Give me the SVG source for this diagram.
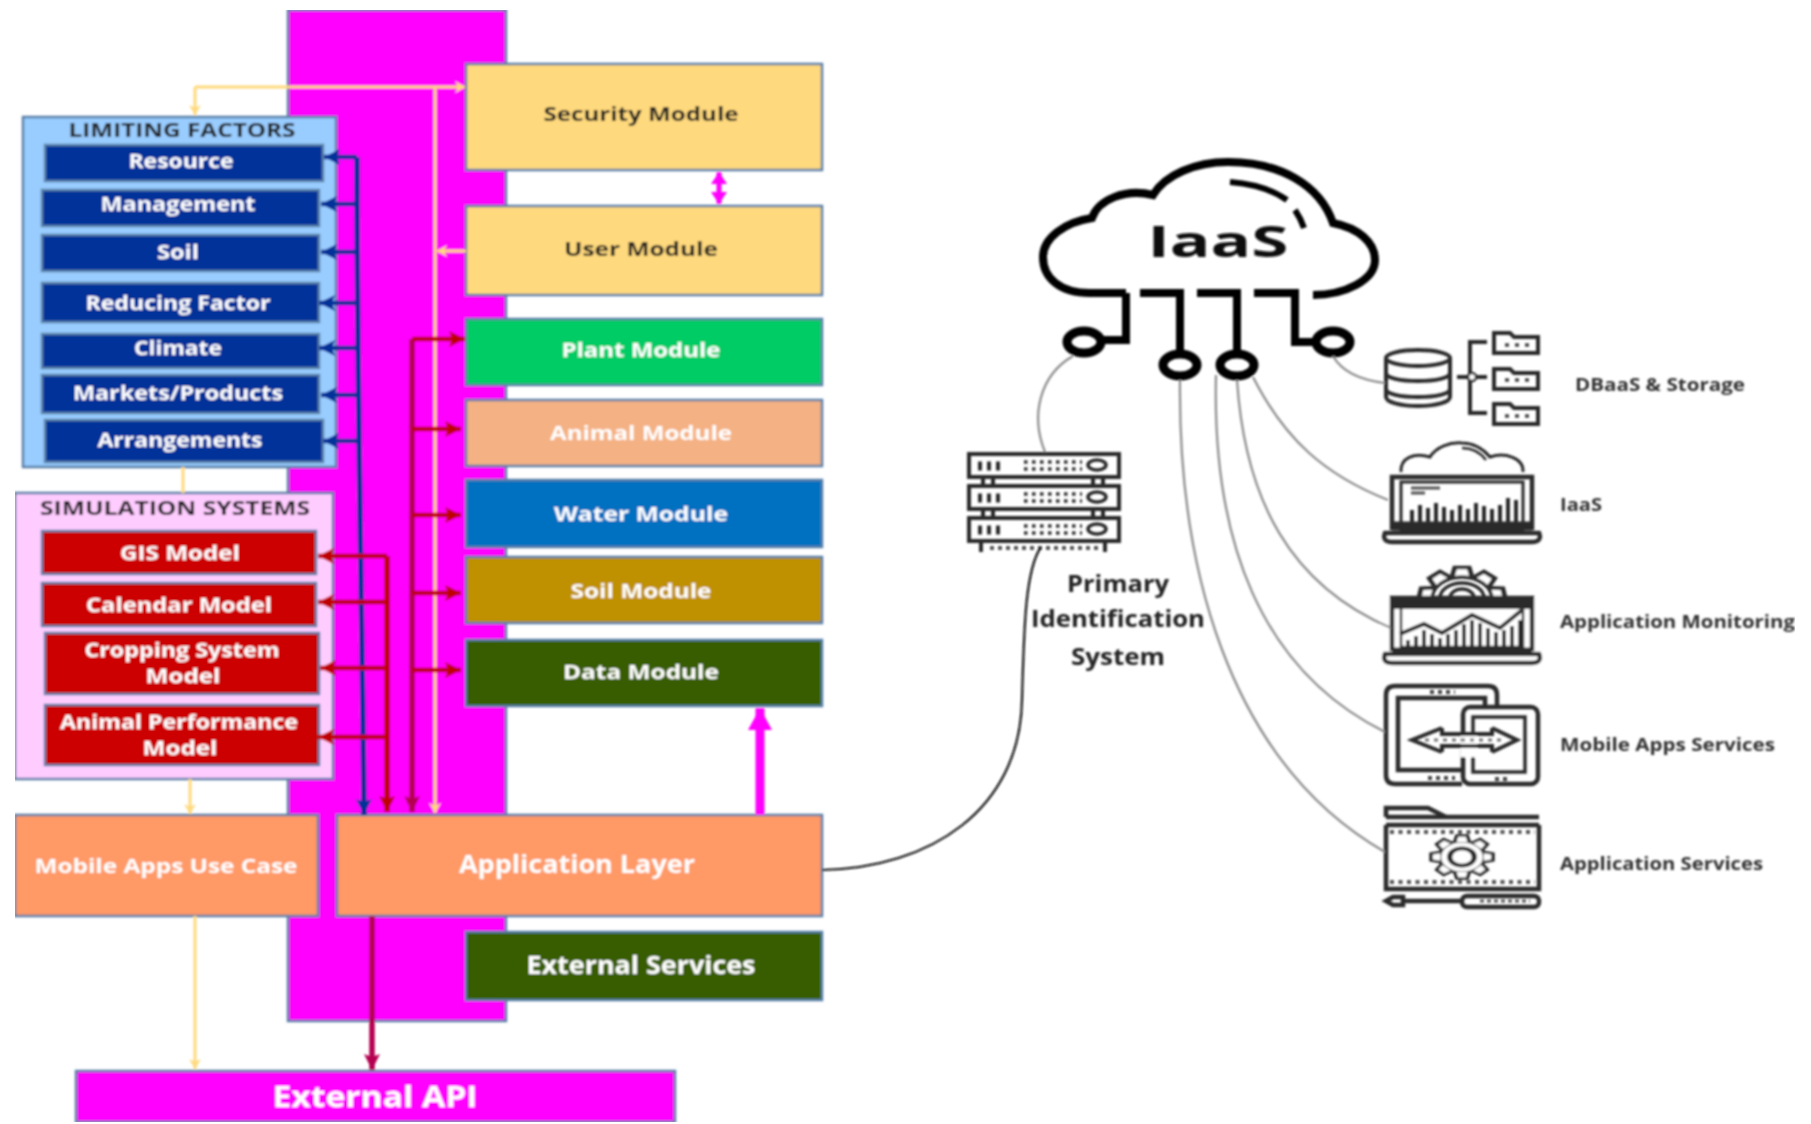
<svg xmlns="http://www.w3.org/2000/svg" width="1811" height="1124" viewBox="0 0 1811 1124">
<defs>
<style>
text{font-family:"Open Sans","Liberation Sans",sans-serif;font-weight:700;text-anchor:middle}
.b{stroke:#5A81A8;stroke-width:2.5}
.w{fill:#fff;font-size:19px}
.k{fill:#222;font-size:19px}
.big{fill:#fff;font-size:25px}
.side{fill:#333;font-size:18px;font-weight:700;text-anchor:start}
.sys{fill:#222;font-size:24px;font-weight:700}
.i{fill:none;stroke:#2b2b2b;stroke-width:4}
.t{fill:none;stroke:#2b2b2b;stroke-width:2.5}
.c{fill:none;stroke:#000;stroke-width:8}
.g{fill:none;stroke:#8a8a8a;stroke-width:2.2}
.y{fill:none;stroke:#FFD97D;stroke-width:3}
.nv{fill:none;stroke:#003399;stroke-width:4.5}
.rd{fill:none;stroke:#C00000;stroke-width:4.5}
.cr{fill:none;stroke:#B5004F;stroke-width:4.5}
.tooth{fill:#fff;stroke:#2b2b2b;stroke-width:3.5}
</style>
<filter id="soft" x="0" y="0" width="100%" height="100%"><feGaussianBlur stdDeviation="0.95"/></filter>
<path id="tooth" d="M-7 -21L-5 -30H5L7 -21"/>
<marker id="ay" markerUnits="userSpaceOnUse" markerWidth="14" markerHeight="14" refX="10" refY="6" orient="auto-start-reverse"><path d="M0 0L10 6L0 12L3 6Z" fill="#FFD97D"/></marker>
<marker id="an" markerUnits="userSpaceOnUse" markerWidth="18" markerHeight="18" refX="16" refY="8" orient="auto"><path d="M0 0L16 8L0 16L3 8Z" fill="#003399"/></marker>
<marker id="ar" markerUnits="userSpaceOnUse" markerWidth="18" markerHeight="18" refX="16" refY="8" orient="auto"><path d="M0 0L16 8L0 16L3 8Z" fill="#C00000"/></marker>
<marker id="ac" markerUnits="userSpaceOnUse" markerWidth="18" markerHeight="18" refX="16" refY="8" orient="auto"><path d="M0 0L16 8L0 16L3 8Z" fill="#B5004F"/></marker>
<marker id="am" markerUnits="userSpaceOnUse" markerWidth="26" markerHeight="26" refX="22" refY="12" orient="auto-start-reverse"><path d="M0 0L22 12L0 24Z" fill="#FF00FF"/></marker>
<marker id="am2" markerUnits="userSpaceOnUse" markerWidth="14" markerHeight="16" refX="12" refY="8" orient="auto-start-reverse"><path d="M0 0L12 8L0 16Z" fill="#FF00FF"/></marker>
</defs>
<rect width="1811" height="1124" fill="#fff"/>
<g filter="url(#soft)">
<g id="platform"><rect class="b" x="288" y="10" width="218" height="1011" fill="#FF00FF"/></g>

<g id="limiting-factors"><rect class="b" x="23" y="117" width="313" height="350" fill="#99CCFF"/><text class="k" x="182" y="137" lengthAdjust="spacingAndGlyphs" textLength="227">LIMITING FACTORS</text></g>
<g id="resource"><rect class="b" x="45" y="145" width="278" height="36" fill="#003399"/><text class="w" x="181" y="168" lengthAdjust="spacingAndGlyphs" textLength="105">Resource</text></g>
<g id="management"><rect class="b" x="42" y="190" width="277" height="36" fill="#003399"/><text class="w" x="178" y="211" lengthAdjust="spacingAndGlyphs" textLength="155">Management</text></g>
<g id="soil-factor"><rect class="b" x="42" y="235" width="277" height="36" fill="#003399"/><text class="w" x="178" y="259" lengthAdjust="spacingAndGlyphs" textLength="42">Soil</text></g>
<g id="reducing-factor"><rect class="b" x="42" y="283" width="277" height="39" fill="#003399"/><text class="w" x="178" y="310" lengthAdjust="spacingAndGlyphs" textLength="185">Reducing Factor</text></g>
<g id="climate"><rect class="b" x="42" y="334" width="277" height="34" fill="#003399"/><text class="w" x="178" y="355" lengthAdjust="spacingAndGlyphs" textLength="88">Climate</text></g>
<g id="markets"><rect class="b" x="42" y="375" width="277" height="38" fill="#003399"/><text class="w" x="178" y="400" lengthAdjust="spacingAndGlyphs" textLength="210">Markets/Products</text></g>
<g id="arrangements"><rect class="b" x="45" y="420" width="278" height="42" fill="#003399"/><text class="w" x="180" y="447" lengthAdjust="spacingAndGlyphs" textLength="165">Arrangements</text></g>

<g id="simulation-systems"><rect class="b" x="15" y="493" width="318" height="286" fill="#FFCCFF"/><text class="k" x="175" y="515" lengthAdjust="spacingAndGlyphs" textLength="270">SIMULATION SYSTEMS</text></g>
<g id="gis"><rect class="b" x="42" y="531" width="274" height="43" fill="#CC0000"/><text class="w" x="180" y="560" lengthAdjust="spacingAndGlyphs" textLength="120">GIS Model</text></g>
<g id="calendar"><rect class="b" x="42" y="583" width="274" height="43" fill="#CC0000"/><text class="w" x="179" y="612" lengthAdjust="spacingAndGlyphs" textLength="186">Calendar Model</text></g>
<g id="cropping"><rect class="b" x="45" y="633" width="274" height="61" fill="#CC0000"/><text class="w" x="182" y="657" lengthAdjust="spacingAndGlyphs" textLength="195">Cropping System</text><text class="w" x="183" y="683" lengthAdjust="spacingAndGlyphs" textLength="75">Model</text></g>
<g id="animal-performance"><rect class="b" x="45" y="705" width="274" height="60" fill="#CC0000"/><text class="w" x="179" y="729" lengthAdjust="spacingAndGlyphs" textLength="238">Animal Performance</text><text class="w" x="180" y="755" lengthAdjust="spacingAndGlyphs" textLength="75">Model</text></g>

<g id="mobile-use-case"><rect class="b" x="15" y="815" width="303" height="101" fill="#FF9966"/><text class="w" x="166" y="873" lengthAdjust="spacingAndGlyphs" textLength="263">Mobile Apps Use Case</text></g>
<g id="application-layer"><rect class="b" x="337" y="815" width="485" height="101" fill="#FF9966"/><text class="big" x="577" y="873" lengthAdjust="spacingAndGlyphs" textLength="236">Application Layer</text></g>
<g id="security"><rect class="b" x="466" y="64" width="356" height="106" fill="#FFD97D"/><text class="k" x="641" y="121" lengthAdjust="spacingAndGlyphs" textLength="195">Security Module</text></g>
<g id="user"><rect class="b" x="466" y="206" width="356" height="89" fill="#FFD97D"/><text class="k" x="641" y="256" lengthAdjust="spacingAndGlyphs" textLength="154">User Module</text></g>
<g id="plant"><rect class="b" x="466" y="319" width="356" height="66" fill="#00CC66"/><text class="w" x="641" y="357" lengthAdjust="spacingAndGlyphs" textLength="159">Plant Module</text></g>
<g id="animal"><rect class="b" x="466" y="400" width="356" height="66" fill="#F4B183"/><text class="w" x="641" y="440" lengthAdjust="spacingAndGlyphs" textLength="182">Animal Module</text></g>
<g id="water"><rect class="b" x="466" y="480" width="356" height="67" fill="#0070C0"/><text class="w" x="641" y="521" lengthAdjust="spacingAndGlyphs" textLength="174">Water Module</text></g>
<g id="soil"><rect class="b" x="466" y="557" width="356" height="66" fill="#BF9000"/><text class="w" x="641" y="598" lengthAdjust="spacingAndGlyphs" textLength="141">Soil Module</text></g>
<g id="data"><rect class="b" x="466" y="640" width="356" height="66" fill="#385D00"/><text class="w" x="641" y="679" lengthAdjust="spacingAndGlyphs" textLength="156">Data Module</text></g>
<g id="external-services"><rect class="b" x="466" y="932" width="356" height="68" fill="#385D00"/><text class="big" x="641" y="974" lengthAdjust="spacingAndGlyphs" textLength="229">External Services</text></g>
<g id="external-api"><rect class="b" x="76" y="1071" width="599" height="51" fill="#FF00FF"/><text class="big" x="375" y="1107" style="font-size:28px" lengthAdjust="spacingAndGlyphs" textLength="205">External API</text></g>

<g id="cloud">
<path d="M1126 293H1090C1060 293 1043 278 1043 257C1043 238 1065 222 1092 218C1098 200 1125 188 1153 195C1165 175 1195 162 1228 162C1280 162 1320 185 1333 223C1358 228 1375 242 1375 260C1375 280 1345 295 1313 295" class="c"/>
<path d="M1230 182C1255 184 1273 190 1287 200M1295 210C1299 216 1302 222 1304 228" class="c" style="stroke-width:6"/>
<path d="M1126 293V340H1103M1140 293H1180V353M1197 293H1237V353M1254 293H1295V342H1314" class="c"/>
<g style="stroke-width:9"><ellipse class="c" style="stroke-width:9" cx="1084" cy="342" rx="17" ry="11"/><ellipse class="c" style="stroke-width:9" cx="1180" cy="365" rx="17" ry="11"/><ellipse class="c" style="stroke-width:9" cx="1237" cy="365" rx="17" ry="11"/><ellipse class="c" style="stroke-width:9" cx="1333" cy="342" rx="17" ry="11"/></g>
<text x="1218" y="257" style="font-size:43px;fill:#111" lengthAdjust="spacingAndGlyphs" textLength="141">IaaS</text>
</g>

<g id="server">
<g class="i"><rect x="969" y="454" width="150" height="23"/><rect x="969" y="486" width="150" height="23"/><rect x="969" y="518" width="150" height="23"/>
<path d="M983 477V486M993 477V486M1093 477V486M1103 477V486M983 509V518M993 509V518M1093 509V518M1103 509V518M981 541V552M1105 541V552"/></g>
<g class="t" style="stroke-width:3.5"><ellipse cx="1097" cy="465" rx="9" ry="5"/><ellipse cx="1097" cy="497" rx="9" ry="5"/><ellipse cx="1097" cy="529" rx="9" ry="5"/></g>
<path d="M978 466H1005M978 498H1005M978 530H1005" fill="none" stroke="#2b2b2b" stroke-width="9" stroke-dasharray="4 5"/>
<path d="M1024 462H1082M1024 469H1082M1024 494H1082M1024 501H1082M1024 526H1082M1024 533H1082" fill="none" stroke="#333" stroke-width="3.5" stroke-dasharray="3.5 4.5"/>
<path d="M990 548H1098" fill="none" stroke="#555" stroke-width="4" stroke-dasharray="4 4"/>
</g>
<g id="primary-identification"><text class="sys" x="1118" y="592" lengthAdjust="spacingAndGlyphs" textLength="102">Primary</text><text class="sys" x="1118" y="627" lengthAdjust="spacingAndGlyphs" textLength="174">Identification</text><text class="sys" x="1118" y="665" lengthAdjust="spacingAndGlyphs" textLength="94">System</text></g>

<g id="dbaas">
<g class="i"><ellipse cx="1418" cy="358" rx="32" ry="8"/><path d="M1386 358V397C1386 402 1400 406 1418 406S1450 402 1450 397V358M1386 373C1386 378 1400 381 1418 381S1450 378 1450 373M1386 389C1386 394 1400 397 1418 397S1450 394 1450 389"/>
<path d="M1487 342H1470V413H1487M1457 377H1487"/>
<path d="M1494 353V333H1510L1514 337H1538V353Z"/><path d="M1494 389V369H1510L1514 373H1538V389Z"/><path d="M1494 424V404H1510L1514 408H1538V424Z"/></g>
<circle class="t" cx="1472" cy="377" r="4" style="fill:#fff"/>
<path d="M1505 345H1530M1505 380H1530M1505 416H1530" fill="none" stroke="#444" stroke-width="3.5" stroke-dasharray="4 6"/>
<text class="side" x="1575" y="391" lengthAdjust="spacingAndGlyphs" textLength="170">DBaaS &amp; Storage</text>
</g>

<g id="iaas">
<path class="i" style="stroke-width:3" d="M1401 472C1400 458 1414 452 1430 457C1436 447 1450 442 1462 443C1475 443 1484 450 1490 457C1505 452 1524 458 1523 472"/>
<path class="t" d="M1462 448C1472 448 1480 452 1486 460"/>
<g class="i" style="stroke-width:4.5"><path d="M1392 530V477H1532V530"/><path d="M1385 533H1539C1542 540 1537 542 1532 542H1392C1387 542 1382 540 1385 533Z"/><path d="M1401 482H1523V530H1401Z" style="stroke-width:3"/></g>
<path d="M1392 526H1532" stroke="#2b2b2b" stroke-width="9" fill="none"/>
<path d="M1412 525V510M1420 525V505M1428 525V508M1436 525V503M1444 525V507M1452 525V510M1460 525V505M1468 525V509M1476 525V503M1484 525V506M1492 525V509M1500 525V505M1508 525V498M1516 525V500" fill="none" stroke="#2b2b2b" stroke-width="4"/>
<path d="M1411 488H1440M1411 493H1425" stroke="#555" stroke-width="3" fill="none"/>
<text class="side" x="1560" y="511" lengthAdjust="spacingAndGlyphs" textLength="42">IaaS</text>
</g>

<g id="app-monitoring">
<g transform="translate(1462 599) scale(1.42 1.05)"><g class="tooth"><use href="#tooth"/><use href="#tooth" transform="rotate(40)"/><use href="#tooth" transform="rotate(-40)"/><use href="#tooth" transform="rotate(80)"/><use href="#tooth" transform="rotate(-80)"/></g></g>
<ellipse cx="1462" cy="599" rx="30" ry="22" class="t" style="stroke-width:3.5"/>
<path d="M1440 598A22 15 0 0 1 1484 598M1450 598A12 9 0 0 1 1474 598" class="t" style="stroke-width:3.5"/>
<rect x="1380" y="598" width="165" height="70" fill="#fff"/>
<g class="i" style="stroke-width:4.5"><path d="M1392 651V598H1532V651"/><path d="M1385 654H1539C1542 661 1537 663 1532 663H1392C1387 663 1382 661 1385 654Z"/></g>
<path d="M1392 604H1532" stroke="#2b2b2b" stroke-width="10" fill="none"/>
<path d="M1401 609V647H1523V609" class="t"/>
<path d="M1400 634L1424 624L1442 633L1472 615L1500 628L1522 610" class="i"/>
<path d="M1408 647V640M1416 647V636M1424 647V630M1432 647V634M1440 647V638M1448 647V634M1456 647V630M1464 647V624M1472 647V620M1480 647V623M1488 647V628M1496 647V632M1504 647V630M1512 647V626M1520 647V620" fill="none" stroke="#2b2b2b" stroke-width="4"/>
<path d="M1392 650H1532" stroke="#2b2b2b" stroke-width="5" fill="none"/>
<text class="side" x="1560" y="628" lengthAdjust="spacingAndGlyphs" textLength="235">Application Monitoring</text>
</g>

<g id="mobile-apps">
<g class="i" style="stroke-width:4.5"><path d="M1497 706V695Q1497 686 1488 686H1395Q1386 686 1386 695V775Q1386 784 1395 784H1462"/><path d="M1485 706V698H1398V770H1462"/>
<rect x="1463" y="707" width="75" height="77" rx="7"/><path d="M1473 717H1525V772H1473Z" style="stroke-width:3.5"/></g>
<rect x="1461" y="735" width="16" height="22" fill="#fff"/>
<path d="M1442 728L1412 740L1442 752M1492 728L1517 740L1492 752M1442 728V734H1473M1442 752V746H1473M1492 728V734H1468M1492 752V746H1468" class="i"/>
<path d="M1425 740H1505" stroke="#777" stroke-width="3" stroke-dasharray="4 5" fill="none"/>
<path d="M1430 692H1455M1428 778H1455M1495 779H1508" stroke="#444" stroke-width="4" stroke-dasharray="4 4" fill="none"/>
<text class="side" x="1560" y="751" lengthAdjust="spacingAndGlyphs" textLength="215">Mobile Apps Services</text>
</g>

<g id="app-services">
<g class="i" style="stroke-width:4.5"><path d="M1386 817V808H1428L1446 817"/><path d="M1386 817H1539M1386 825H1539"/><path d="M1386 825V889H1539V825"/>
<path d="M1386 901L1393 897H1403V905H1393ZM1403 901H1462"/><rect x="1462" y="896" width="77" height="11" rx="5"/></g>
<path d="M1390 832H1535M1390 882H1535" stroke="#555" stroke-width="4" stroke-dasharray="4 4.5" fill="none"/>
<path d="M1480 901H1530" stroke="#555" stroke-width="3" stroke-dasharray="4 3" fill="none"/>
<g transform="translate(1462 857) scale(1.03 .72)">
<circle r="22" class="tooth"/>
<g class="tooth"><use href="#tooth"/><use href="#tooth" transform="rotate(45)"/><use href="#tooth" transform="rotate(90)"/><use href="#tooth" transform="rotate(135)"/><use href="#tooth" transform="rotate(180)"/><use href="#tooth" transform="rotate(225)"/><use href="#tooth" transform="rotate(270)"/><use href="#tooth" transform="rotate(315)"/></g>
<circle r="12" class="tooth" style="stroke-width:5"/>
</g>
<text class="side" x="1560" y="870" lengthAdjust="spacingAndGlyphs" textLength="203">Application Services</text>
</g>

<g id="connectors">
<path class="y" d="M195 87H465" marker-end="url(#ay)"/>
<path class="y" d="M195 87V115" marker-end="url(#ay)"/>
<path class="y" d="M435 87V813" marker-end="url(#ay)"/>
<path class="y" d="M466 251H437" marker-end="url(#ay)"/>
<path class="y" d="M183 467V493"/>
<path class="y" d="M190 779V814" marker-end="url(#ay)"/>
<path class="y" d="M195 916V1069" marker-end="url(#ay)"/>

<path class="nv" d="M357 157C357 400 362 600 364 815" marker-end="url(#an)" style="stroke-width:5.5"/>
<path class="nv" d="M357 157H324" marker-end="url(#an)"/>
<path class="nv" d="M357 204H321" marker-end="url(#an)"/>
<path class="nv" d="M358 252H321" marker-end="url(#an)"/>
<path class="nv" d="M356 303H319" marker-end="url(#an)"/>
<path class="nv" d="M356 348H319" marker-end="url(#an)"/>
<path class="nv" d="M359 395H321" marker-end="url(#an)"/>
<path class="nv" d="M359 441H323" marker-end="url(#an)"/>

<path class="rd" d="M387 556V812" marker-end="url(#ar)" style="stroke-width:5.5"/>
<path class="rd" d="M387 556H318" marker-end="url(#ar)"/>
<path class="rd" d="M387 602H318" marker-end="url(#ar)"/>
<path class="rd" d="M387 668H320" marker-end="url(#ar)"/>
<path class="rd" d="M387 737H318" marker-end="url(#ar)"/>

<path class="cr" d="M412 339V812" marker-end="url(#ac)" style="stroke-width:5.5"/>
<path class="rd" d="M412 339H465" marker-end="url(#ar)"/>
<path class="rd" d="M412 429H461" marker-end="url(#ar)"/>
<path class="rd" d="M412 515H461" marker-end="url(#ar)"/>
<path class="rd" d="M412 593H461" marker-end="url(#ar)"/>
<path class="rd" d="M412 670H461" marker-end="url(#ar)"/>
<path class="cr" d="M372 916V1070" marker-end="url(#ac)" style="stroke-width:5.5"/>

<path d="M760 815V708" stroke="#FF00FF" stroke-width="9" fill="none" marker-end="url(#am)"/>
<path d="M719 172V204" stroke="#FF00FF" stroke-width="5" fill="none" marker-start="url(#am2)" marker-end="url(#am2)"/>
<path d="M822 870C930 868 1020 810 1022 700C1024 630 1025 570 1041 547" fill="none" stroke="#111" stroke-width="2.2"/>
<path class="g" d="M1045 452C1030 415 1040 375 1073 356"/>
<path class="g" d="M1333 356C1342 372 1360 380 1385 383"/>
<path class="g" d="M1180 380C1178 560 1225 760 1385 852"/>
<path class="g" d="M1216 375C1212 540 1260 670 1385 732"/>
<path class="g" d="M1237 380C1245 500 1290 585 1391 628"/>
<path class="g" d="M1253 377C1285 440 1325 475 1388 500"/>
</g>
</g>
</svg>
